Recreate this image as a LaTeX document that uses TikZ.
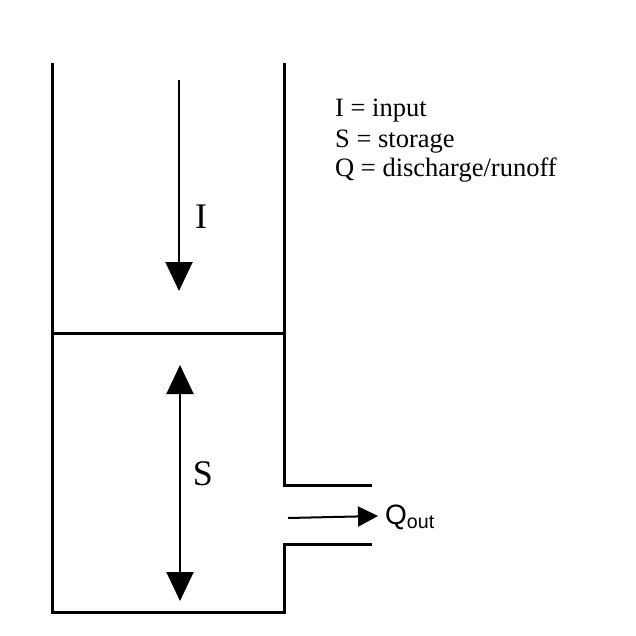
\documentclass[tikz,border=0pt]{standalone}
\usepackage{fontspec}
\setmainfont{Liberation Serif}
\setsansfont{Liberation Sans}
\usetikzlibrary{arrows.meta}
\begin{document}
\begin{tikzpicture}[x=1pt,y=-1pt,
  wall/.style={line width=3pt,line cap=rect},
  flow/.style={line width=2pt,-{Triangle[width=27pt,length=29pt]}},
  flowboth/.style={line width=2pt,{Triangle[width=27pt,length=29pt]}-{Triangle[width=27pt,length=29pt]}},
  small/.style={line width=2pt,-{Triangle[width=20pt,length=20pt]}},
  lbl/.style={font=\fontsize{36}{40}\selectfont,inner sep=0pt},
  legend/.style={font=\fontsize{26.5}{30}\selectfont,anchor=base west,inner sep=0pt}]
\useasboundingbox (0,0) rectangle (635,636);
% walls
\coordinate (lt) at (52,65);
\coordinate (lb) at (52,612);
\coordinate (rt) at (284,65);
\coordinate (ro1) at (284,485);
\coordinate (oe1) at (370,485);
\coordinate (oe2) at (370,544);
\coordinate (ro2) at (284,544);
\coordinate (rb) at (284,612);
\coordinate (ml) at (52,333);
\coordinate (mr) at (284,333);
\draw[wall] (lt) -- (lb) -- (rb) -- (ro2) -- (oe2);
\draw[wall] (rt) -- (ro1) -- (oe1);
\draw[wall] (ml) -- (mr);
% input arrow
\coordinate (i1) at (179,80);
\coordinate (i2) at (179,291);
\draw[flow] (i1) -- (i2);
\node[lbl] (I) at (201,217) {I};
% storage arrow
\coordinate (s1) at (180,601);
\coordinate (s2) at (180,365);
\draw[flowboth] (s1) -- (s2);
\node[lbl] (S) at (203,474) {S};
% outflow arrow
\coordinate (q1) at (288,518);
\coordinate (q2) at (378,516);
\draw[small] (q1) -- (q2);
\node[font=\sffamily\fontsize{28}{30}\selectfont,anchor=west,inner sep=0pt] (Q) at (385,517) {Q\textsubscript{out}};
% legend
\node[legend] (leg1) at (335,117) {I = input};
\node[legend] (leg2) at (335,148) {S = storage};
\node[legend] (leg3) at (335,177) {Q = discharge/runoff};
\end{tikzpicture}
\end{document}
